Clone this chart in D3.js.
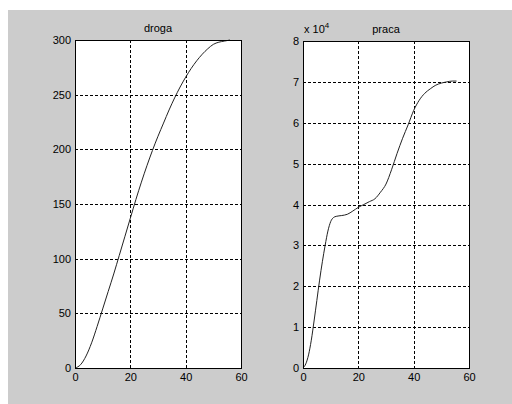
<!DOCTYPE html>
<html>
<head>
<meta charset="utf-8">
<script src="https://cdn.jsdelivr.net/npm/d3@7"></script>
<style>
  body { margin: 0; background: #fff; }
  svg { display: block; }
  .tick text { font-family: "Liberation Sans", Arial, sans-serif; font-size: 11px; fill: #000; }
  .title { font-family: "Liberation Sans", Arial, sans-serif; font-size: 11px; fill: #000; }
</style>
</head>
<body>
<div id="chart"></div>
<script>
// time samples (s) and the two series
const tDroga = [0, 2, 4, 6, 8, 10, 12, 14, 16, 18, 20, 22, 24, 26, 28, 30, 32, 34, 36, 38, 40, 42, 44, 46, 48, 50, 52, 54, 56];
const droga = [0, 3, 11, 23, 38, 54, 70, 86, 103, 120, 137, 154, 170, 185, 199, 212, 224, 236, 247, 257, 266, 274, 281, 287, 292, 296, 298, 299, 300];

const tPraca = [0, 1, 2, 3, 4, 5, 6, 7, 8, 9, 10, 11, 12, 14, 16, 18, 20, 22, 24, 26, 28, 30, 32, 34, 36, 38, 40, 42, 44, 46, 48, 50, 52, 54, 55.5];
const praca = [0, 0.1, 0.32, 0.68, 1.15, 1.65, 2.15, 2.6, 3.0, 3.35, 3.58, 3.68, 3.71, 3.73, 3.76, 3.84, 3.93, 4.0, 4.07, 4.14, 4.3, 4.5, 4.85, 5.25, 5.62, 5.95, 6.3, 6.55, 6.72, 6.83, 6.92, 6.97, 7.0, 7.02, 7.02];

const xTicks = [0, 20, 40, 60];
const drogaTicks = [0, 50, 100, 150, 200, 250, 300];
const pracaTicks = [0, 1, 2, 3, 4, 5, 6, 7, 8];

const W = 512, H = 404;

const svg = d3.select('#chart').append('svg')
    .attr('width', W)
    .attr('height', H);

// figure background
svg.append('rect')
    .attr('x', 8).attr('y', 10)
    .attr('width', W - 8).attr('height', H - 10)
    .attr('fill', '#cccccc');

function panel(cfg) {
    const xScale = d3.scaleLinear().domain([0, 60]).range([cfg.left, cfg.right]);
    const yScale = d3.scaleLinear().domain(cfg.yDomain).range([cfg.bottom, cfg.top]);

    const g = svg.append('g');

    g.append('rect')
        .attr('x', cfg.left).attr('y', cfg.top)
        .attr('width', cfg.right - cfg.left).attr('height', cfg.bottom - cfg.top)
        .attr('fill', '#fff');

    // grid lines
    g.selectAll('.vgrid')
        .data(xTicks.slice(1, -1))
        .join('line')
        .attr('x1', d => Math.round(xScale(d)) + 0.5)
        .attr('x2', d => Math.round(xScale(d)) + 0.5)
        .attr('y1', cfg.top).attr('y2', cfg.bottom)
        .attr('stroke', '#000')
        .attr('stroke-dasharray', '3,2');

    g.selectAll('.hgrid')
        .data(cfg.yTicks.slice(1))
        .join('line')
        .attr('y1', d => Math.round(yScale(d)) + 0.5)
        .attr('y2', d => Math.round(yScale(d)) + 0.5)
        .attr('x1', cfg.left).attr('x2', cfg.right)
        .attr('stroke', '#000')
        .attr('stroke-dasharray', '3,2');

    // curve
    const line = d3.line()
        .x((d, i) => xScale(cfg.t[i]))
        .y(d => yScale(d))
        .curve(d3.curveMonotoneX);

    g.append('path')
        .datum(cfg.values)
        .attr('fill', 'none')
        .attr('stroke', '#222')
        .attr('stroke-width', 1)
        .attr('d', line);

    // box
    g.append('rect')
        .attr('x', cfg.left + 0.5).attr('y', cfg.top + 0.5)
        .attr('width', cfg.right - cfg.left).attr('height', cfg.bottom - cfg.top)
        .attr('fill', 'none')
        .attr('stroke', '#000');

    // axes (ticks only as labels, MATLAB style)
    const xAxis = d3.axisBottom(xScale).tickValues(xTicks).tickSize(0).tickPadding(4);
    g.append('g')
        .attr('transform', `translate(0,${cfg.bottom + 1})`)
        .call(xAxis)
        .call(a => a.select('.domain').remove());

    const yAxis = d3.axisLeft(yScale).tickValues(cfg.yTicks).tickSize(0).tickPadding(4);
    g.append('g')
        .attr('transform', `translate(${cfg.left},0)`)
        .call(yAxis)
        .call(a => a.select('.domain').remove());

    g.append('text')
        .attr('class', 'title')
        .attr('x', (cfg.left + cfg.right) / 2)
        .attr('y', cfg.top - 8)
        .attr('text-anchor', 'middle')
        .text(cfg.title);

    return g;
}

panel({left: 75, right: 241, top: 40, bottom: 368, yDomain: [0, 300],
    yTicks: drogaTicks, t: tDroga, values: droga, title: 'droga'});

const p2 = panel({left: 303, right: 469, top: 41, bottom: 368, yDomain: [0, 8],
    yTicks: pracaTicks, t: tPraca, values: praca, title: 'praca'});

// exponent label
const exp = p2.append('text')
    .attr('class', 'title')
    .attr('x', 304)
    .attr('y', 33);
exp.append('tspan').text('x 10');
exp.append('tspan').attr('dy', -5).attr('font-size', '8px').text('4');
</script>
</body>
</html>
